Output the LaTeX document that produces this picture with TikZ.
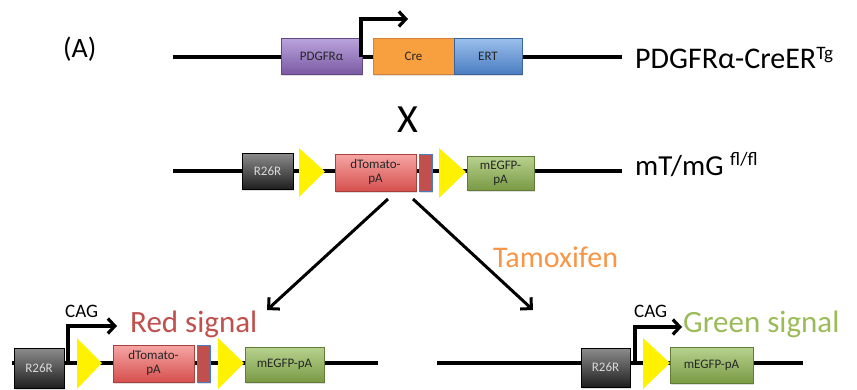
\documentclass[tikz,border=0pt]{standalone}
\usepackage{fontspec}
\setmainfont{Carlito}
\usetikzlibrary{arrows.meta,shadows}
\definecolor{tamorange}{HTML}{F79646}
\definecolor{redsig}{HTML}{C0504D}
\definecolor{greensig}{HTML}{9BBB59}
\definecolor{pdgftop}{HTML}{BBA5DD}
\definecolor{pdgfbot}{HTML}{7A5AA3}
\definecolor{erttop}{HTML}{9BC0EC}
\definecolor{ertbot}{HTML}{4A7DC0}
\definecolor{tomtop}{HTML}{F6A6A4}
\definecolor{tombot}{HTML}{D5504E}
\definecolor{gfptop}{HTML}{B7D28E}
\definecolor{gfpbot}{HTML}{7A9A45}

\begin{document}
\begin{tikzpicture}[x=1pt, y=-1pt,
    dna/.style={line width=3.2pt},
    gene/.style={draw, line width=0.7pt, inner sep=0pt, align=center,
      font=\fontsize{13}{14}\selectfont,
      drop shadow={opacity=0.25, shadow xshift=1pt, shadow yshift=-1.5pt}},
    pdgfbox/.style={gene, draw=pdgfbot!80!black, top color=pdgftop, bottom color=pdgfbot, text=black!85},
    crebox/.style={gene, draw=tamorange!85!black, fill=tamorange!90!yellow, text=black!85},
    ertbox/.style={gene, draw=ertbot!80!black, top color=erttop, bottom color=ertbot, text=black!85},
    r26box/.style={gene, draw=black, top color=black!45, bottom color=black!88, text=black!15},
    tombox/.style={gene, draw=tombot!80!black, top color=tomtop, bottom color=tombot, text=black!85},
    stopbox/.style={gene, draw=ertbot, fill=redsig, drop shadow={opacity=0}},
    gfpbox/.style={gene, draw=gfpbot!80!black, top color=gfptop, bottom color=gfpbot, text=black!85},
    loxp/.style={fill=yellow},
    promoter/.style={line width=3.2pt, -{Straight Barb[length=7pt,width=15pt]}},
    split/.style={line width=3pt, -{Straight Barb[length=8pt,width=16pt]}},
    lbl/.style={anchor=base west, inner sep=0pt},
  ]
  \clip (0,0) rectangle (857,389);

  % Cre driver
  \node[lbl, font=\fontsize{28}{28}\selectfont] (panel) at (63,57) {(A)};
  \coordinate (creL) at (173,57);
  \coordinate (creR) at (622,57);
  \draw[dna] (creL) -- (creR);
  \node[pdgfbox, minimum width=81pt, minimum height=36pt] (pdgfra) at (321.5,56) {PDGFRα};
  \node[crebox, minimum width=81pt, minimum height=36pt] (cre) at (413.5,56) {Cre};
  \node[ertbox, minimum width=68pt, minimum height=36pt] (ert) at (488,56) {ERT};
  \coordinate (creP) at (361,57);
  \draw[promoter] (creP) -- ++(0,-38) -- ++(47,0);
  \node[lbl, font=\fontsize{30}{30}\selectfont] (crename) at (635,68)
    {PDGFRα-CreER\raisebox{9pt}{\fontsize{19}{19}\selectfont Tg}};

  \node[anchor=base, inner sep=0pt, font=\fontsize{40}{40}\selectfont] (cross) at (408,132) {X};

  % reporter
  \coordinate (repL) at (173,171);
  \coordinate (repR) at (622,171);
  \draw[dna] (repL) -- (repR);
  \node[r26box, minimum width=51pt, minimum height=36pt] (r26) at (267.5,171) {R26R};
  \fill[loxp] (299,148) -- (325,171.5) -- (299,197) -- cycle;
  \node[tombox, minimum width=81pt, minimum height=37pt] (tom) at (375.5,172.5) {dTomato-\\pA};
  \node[stopbox, minimum width=13pt, minimum height=37pt] (stop) at (425.5,172.5) {};
  \fill[loxp] (439,148) -- (466,172) -- (439,198) -- cycle;
  \node[gfpbox, minimum width=67pt, minimum height=34pt] (gfp) at (500.5,173) {mEGFP-\\pA};
  \node[lbl, font=\fontsize{29}{29}\selectfont] (repname) at (635,175)
    {mT/mG \raisebox{10pt}{\fontsize{19}{19}\selectfont fl/fl}};

  % recombination
  \coordinate (splitL) at (388,199);
  \coordinate (splitR) at (413,199);
  \coordinate (toRed) at (267,310);
  \coordinate (toGreen) at (533,310);
  \draw[split] (splitL) -- (toRed);
  \draw[split] (splitR) -- (toGreen);
  \node[lbl, font=\fontsize{30}{30}\selectfont, text=tamorange] (tamox) at (493,267) {Tamoxifen};

  % without Cre
  \coordinate (redL) at (12,363);
  \coordinate (redR) at (378,363);
  \draw[dna] (redL) -- (redR);
  \node[r26box, minimum width=50pt, minimum height=40pt] (r26a) at (39,368) {R26R};
  \coordinate (redP) at (68,363);
  \draw[promoter] (redP) -- ++(0,-37) -- ++(49,0);
  \node[lbl, font=\fontsize{19}{19}\selectfont] (caga) at (65,317) {CAG};
  \fill[loxp] (77,338) -- (102,363) -- (77,389) -- cycle;
  \node[tombox, minimum width=81pt, minimum height=37pt] (tomA) at (153.5,363.5) {dTomato-\\pA};
  \node[stopbox, minimum width=13pt, minimum height=37pt] (stopA) at (203.5,363.5) {};
  \fill[loxp] (218,338) -- (244,363) -- (218,389) -- cycle;
  \node[gfpbox, minimum width=79pt, minimum height=35pt] (gfpA) at (284.5,364.5) {mEGFP-pA};
  \node[lbl, font=\fontsize{31}{31}\selectfont, text=redsig] (redtxt) at (130,332) {Red signal};

  % after Cre
  \coordinate (grnL) at (437,363);
  \coordinate (grnR) at (803,363);
  \draw[dna] (grnL) -- (grnR);
  \node[r26box, minimum width=49pt, minimum height=39pt] (r26b) at (605.5,367.5) {R26R};
  \coordinate (grnP) at (635,363);
  \draw[promoter] (grnP) -- ++(0,-36) -- ++(47,0);
  \node[lbl, font=\fontsize{19}{19}\selectfont] (cagb) at (634,317) {CAG};
  \fill[loxp] (643,338) -- (670,363) -- (643,389) -- cycle;
  \node[gfpbox, minimum width=83pt, minimum height=36pt] (gfpB) at (711.5,365) {mEGFP-pA};
  \node[lbl, font=\fontsize{31}{31}\selectfont, text=greensig] (grntxt) at (683,332) {Green signal};
\end{tikzpicture}
\end{document}
